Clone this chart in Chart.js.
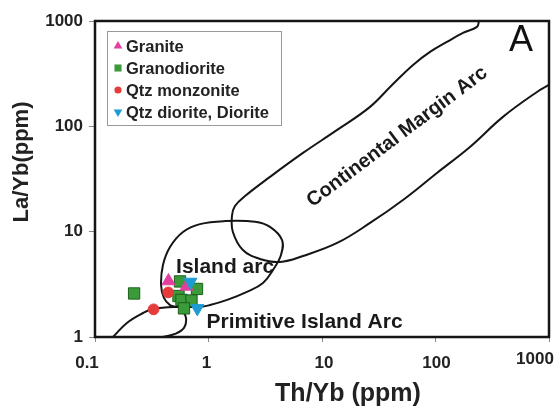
<!DOCTYPE html>
<html>
<head>
<meta charset="utf-8">
<script src="https://cdn.jsdelivr.net/npm/chart.js@4.4.0/dist/chart.umd.min.js"></script>
<style>
  html, body { margin: 0; padding: 0; background: #fff; }
  #wrap { width: 560px; height: 408px; }
</style>
</head>
<body>
<div id="wrap"><canvas id="myChart" width="560" height="408"></canvas></div>
<script>
// Th/Yb vs La/Yb (ppm) for each rock group
const graniteX = [0.444, 0.640];
const graniteY = [3.40, 3.02];
const granodioriteX = [0.221, 0.561, 0.792, 0.544, 0.578, 0.708, 0.608];
const granodioriteY = [2.59, 3.37, 2.86, 2.45, 2.25, 2.22, 1.87];
const monzoniteX = [0.442, 0.328];
const monzoniteY = [2.65, 1.83];
const dioriteX = [0.693, 0.797];
const dioriteY = [3.33, 1.87];

// tectonic field outlines (same units)
const islandArcX = [0.144, 0.191, 0.265, 0.324, 0.528, 0.841, 1.03, 1.46, 2.18, 3.02, 3.70, 4.35, 4.44, 3.48, 2.57, 1.40, 0.841, 0.596, 0.458, 0.397, 0.382, 0.405, 0.458, 0.528];
const islandArcY = [1.0, 1.36, 1.69, 1.84, 1.93, 1.93, 2.01, 2.25, 2.68, 3.26, 4.33, 6.01, 8.34, 11.1, 12.4, 12.6, 11.8, 9.94, 7.16, 4.83, 3.12, 2.35, 2.01, 1.93];
const primitiveArcX = [0.584, 0.634, 0.608, 0.507, 0.397];
const primitiveArcY = [1.84, 1.51, 1.22, 1.07, 1.0];
const continentalArcX = [241.6, 232, 174.7, 126, 89.5, 63.4, 41.4, 26.5, 13.6, 6.80, 3.48, 2.10, 1.71, 1.61, 1.64, 2.01, 2.84, 4.26, 6.80, 13.6, 26.5, 51.7, 103, 201, 393, 784, 1000];
const continentalArcY = [1000, 879, 771, 633, 509, 383, 247, 153, 92.4, 55.9, 33.1, 21.8, 17.5, 14.1, 9.94, 6.70, 5.51, 5.16, 5.88, 7.81, 12.1, 20.0, 36.1, 63.7, 123, 212, 247];

const xTicks = [0.1, 1, 10, 100, 1000];
const xTickLabels = ['0.1', '1', '10', '100', '1000'];
const yTicks = [1, 10, 100, 1000];
const yTickLabels = ['1', '10', '100', '1000'];

const FONT = '"Liberation Sans", Arial, Helvetica, sans-serif';

function pts(xs, ys) {
    return xs.map((v, i) => ({ x: v, y: ys[i] }));
}

function outline(xs, ys) {
    return {
        label: '',
        data: pts(xs, ys),
        showLine: true,
        tension: 0.4,
        borderColor: '#151515',
        borderWidth: 2,
        pointRadius: 0,
        fill: false,
        order: 10
    };
}

const groups = [
    { label: 'Granite', data: pts(graniteX, graniteY), pointStyle: 'triangle', rotation: 0,
      backgroundColor: '#e2409c', borderColor: '#e2409c', pointRadius: 7.5, order: 2 },
    { label: 'Granodiorite', data: pts(granodioriteX, granodioriteY), pointStyle: 'rect', rotation: 0,
      backgroundColor: '#3b9a3a', borderColor: '#1d5e1d', borderWidth: 1, pointRadius: 8, order: 4 },
    { label: 'Qtz monzonite', data: pts(monzoniteX, monzoniteY), pointStyle: 'circle', rotation: 0,
      backgroundColor: '#e53b3b', borderColor: '#e53b3b', pointRadius: 5.4, order: 3 },
    { label: 'Qtz diorite, Diorite', data: pts(dioriteX, dioriteY), pointStyle: 'triangle', rotation: 180,
      backgroundColor: '#1f9bd4', borderColor: '#1f9bd4', pointRadius: 7.5, order: 1 }
];

// field names, frame, x labels, axis titles and the boxed legend
const decor = {
    id: 'decor',
    beforeDatasetsDraw(chart) {
        const { ctx, scales: { x, y } } = chart;
        ctx.save();
        ctx.fillStyle = '#1a1a1a';
        ctx.textAlign = 'center';
        ctx.textBaseline = 'middle';
        ctx.font = 'bold 21px ' + FONT;
        ctx.fillText('Island arc', x.getPixelForValue(1.40), y.getPixelForValue(4.62));
        ctx.fillText('Primitive Island Arc', x.getPixelForValue(7.02), y.getPixelForValue(1.39));
        ctx.font = 'bold 20px ' + FONT;
        ctx.translate(x.getPixelForValue(45.9), y.getPixelForValue(79.3));
        ctx.rotate(-37 * Math.PI / 180);
        ctx.fillText('Continental Margin Arc', 0, 0);
        ctx.restore();
    },
    afterDraw(chart) {
        const { ctx, chartArea: a, scales: { x } } = chart;
        ctx.save();

        ctx.lineWidth = 2.5;
        ctx.strokeStyle = '#151515';
        ctx.strokeRect(a.left, a.top, a.right - a.left, a.bottom - a.top);

        ctx.fillStyle = '#111';
        ctx.textAlign = 'center';
        ctx.textBaseline = 'middle';
        ctx.font = '36px ' + FONT;
        ctx.fillText('A', a.right - 28, a.top + 20);

        const nudgeX = [-8, -2, 2, 1, -14];
        const nudgeY = [0, 0, 0, 0, -4];
        ctx.font = 'bold 17px ' + FONT;
        ctx.fillStyle = '#222';
        xTicks.forEach((v, i) => {
            ctx.fillText(xTickLabels[i], x.getPixelForValue(v) + nudgeX[i], a.bottom + 26 + nudgeY[i]);
        });

        ctx.font = 'bold 25px ' + FONT;
        ctx.fillText('Th/Yb (ppm)', 348, 394);
        ctx.save();
        ctx.translate(22, 162);
        ctx.rotate(-Math.PI / 2);
        ctx.font = 'bold 22px ' + FONT;
        ctx.fillText('La/Yb(ppm)', 0, 0);
        ctx.restore();

        // legend box
        ctx.lineWidth = 1;
        ctx.strokeStyle = '#9a9a9a';
        ctx.strokeRect(107.5, 31.5, 174, 94);
        ctx.font = 'bold 16.5px ' + FONT;
        ctx.textAlign = 'left';
        groups.forEach((g, i) => {
            const ly = 46 + i * 22;
            ctx.fillStyle = g.backgroundColor;
            ctx.strokeStyle = g.backgroundColor;
            const r = g.pointStyle === 'circle' ? 3.6 : 5;
            Chart.helpers.drawPoint(ctx, { pointStyle: g.pointStyle, radius: r, rotation: g.rotation, borderWidth: 0 }, 118, ly);
            ctx.fillStyle = '#222';
            ctx.fillText(g.label, 126, ly + 1);
        });
        ctx.restore();
    }
};

new Chart(document.getElementById('myChart').getContext('2d'), {
    type: 'scatter',
    data: {
        datasets: [
            outline(continentalArcX, continentalArcY),
            outline(islandArcX, islandArcY),
            outline(primitiveArcX, primitiveArcY)
        ].concat(groups)
    },
    options: {
        responsive: false,
        animation: false,
        layout: { padding: { top: 21, right: 11, left: 0, bottom: 0 } },
        plugins: {
            legend: { display: false },
            tooltip: { enabled: false }
        },
        scales: {
            x: {
                type: 'logarithmic',
                min: 0.1,
                max: 1000,
                afterBuildTicks: s => { s.ticks = xTicks.map(v => ({ value: v })); },
                afterFit: s => { s.height = 71; },
                ticks: { display: false },
                grid: { drawOnChartArea: false, drawTicks: true, tickLength: 5, color: '#8a8a8a' },
                border: { display: false }
            },
            y: {
                type: 'logarithmic',
                min: 1,
                max: 1000,
                afterBuildTicks: s => { s.ticks = yTicks.map(v => ({ value: v })); },
                afterFit: s => { s.width = 95; },
                ticks: {
                    callback: (v, i) => yTickLabels[i],
                    font: { family: FONT, size: 17, weight: 'bold' },
                    color: '#222',
                    padding: 6
                },
                grid: { drawOnChartArea: false, drawTicks: true, tickLength: 6, color: '#8a8a8a' },
                border: { display: false }
            }
        }
    },
    plugins: [decor]
});
</script>
</body>
</html>
